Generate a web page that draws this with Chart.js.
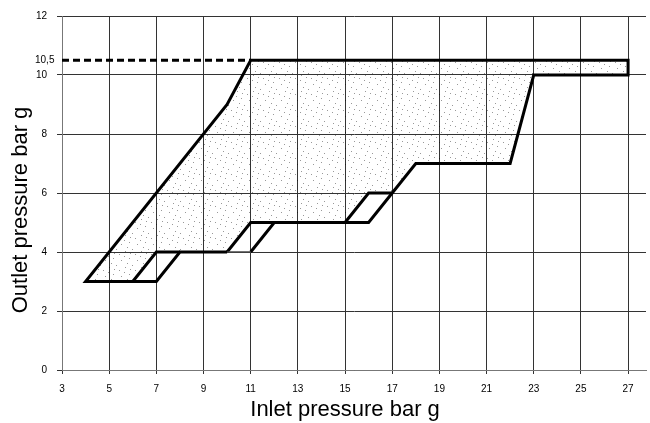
<!DOCTYPE html>
<html>
<head>
<meta charset="utf-8">
<script src="https://cdn.jsdelivr.net/npm/chart.js@4.4.0/dist/chart.umd.min.js"></script>
<style>
  html, body { margin: 0; padding: 0; background: #fff; }
</style>
</head>
<body>
<canvas id="pressureChart" width="650" height="423"></canvas>
<script>
// axis ticks (bar g)
const xTicks = [3, 5, 7, 9, 11, 13, 15, 17, 19, 21, 23, 25, 27];
const yTicks = [0, 2, 4, 6, 8, 10, 12];
const setLevel = 10.5;
const setLevelLabel = '10,5';

// regulating range, [inlet, outlet]
const shadedArea = [[4, 3], [6, 3], [7, 4], [10, 4], [11, 5], [15, 5], [16, 6], [17, 6], [18, 7],
                    [22, 7], [23, 10], [27, 10], [27, 10.5], [11, 10.5], [10, 9], [4, 3]];
const outerLine = [[11, 4], [12, 5], [16, 5], [17, 6], [18, 7], [22, 7], [23, 10], [27, 10],
                   [27, 10.5], [11, 10.5], [10, 9], [4, 3], [7, 3], [8, 4], [10, 4]];
const step1 = [[6, 3], [7, 4], [8, 4]];
const step2 = [[10, 4], [11, 5], [12, 5]];
const step3 = [[15, 5], [16, 6], [17, 6]];
const thinStep = [[10, 4], [11, 4]];
const dashedLine = [[3, 10.5], [11, 10.5]];

const pts = a => a.map(p => ({ x: p[0], y: p[1] }));

// sparse stipple for the shaded range (fixed dot spots on a 16px tile)
const dotSpots = [[1, 2], [9, 4], [13, 11], [4, 9], [7, 14], [12, 0], [2, 13], [15, 7]];
function stipple(ctx) {
    const c = document.createElement('canvas');
    c.width = 16; c.height = 16;
    const g = c.getContext('2d');
    g.fillStyle = 'rgba(0,0,0,0.4)';
    dotSpots.forEach(d => g.fillRect(d[0], d[1], 1, 1));
    return ctx.createPattern(c, 'repeat');
}

const font = 'Liberation Sans, Arial, sans-serif';

const axisText = {
    id: 'axisText',
    afterDraw(chart) {
        const ctx = chart.ctx;
        const x = chart.scales.x, y = chart.scales.y;
        ctx.save();
        ctx.fillStyle = '#000';
        ctx.font = '10px ' + font;
        ctx.textAlign = 'left';
        ctx.textBaseline = 'middle';
        ctx.fillText(setLevelLabel, 35, y.getPixelForValue(setLevel));

        ctx.font = '22px ' + font;
        ctx.textAlign = 'center';
        ctx.textBaseline = 'alphabetic';
        const cx = (x.getPixelForValue(xTicks[0]) + x.getPixelForValue(xTicks[xTicks.length - 1])) / 2;
        ctx.fillText('Inlet pressure bar g', cx, 416);

        ctx.translate(27, 210);
        ctx.rotate(-Math.PI / 2);
        ctx.fillText('Outlet pressure bar g', 0, 0);
        ctx.restore();
    }
};

const ctx = document.getElementById('pressureChart').getContext('2d');

const line = (data, width, extra) => Object.assign({
    data: pts(data),
    showLine: true,
    borderColor: '#000',
    borderWidth: width,
    pointRadius: 0,
    borderJoinStyle: 'miter',
    fill: false
}, extra || {});

new Chart(ctx, {
    type: 'scatter',
    data: {
        datasets: [
            line(shadedArea, 0, { fill: 'shape', backgroundColor: stipple(ctx) }),
            line(thinStep, 1.5, { borderColor: '#444' }),
            line(outerLine, 3),
            line(step1, 3),
            line(step2, 3),
            line(step3, 3),
            line(dashedLine, 3, { borderDash: [7, 4] })
        ]
    },
    options: {
        responsive: false,
        animation: false,
        layout: { padding: { top: 13, right: 4, left: 0, bottom: 0 } },
        plugins: { legend: { display: false }, tooltip: { enabled: false } },
        scales: {
            x: {
                type: 'linear',
                min: 3,
                max: 27.76,
                afterBuildTicks: s => { s.ticks = xTicks.map(v => ({ value: v })); },
                afterFit: s => { s.height = 53; },
                ticks: { color: '#000', font: { family: font, size: 10 }, padding: 9, maxRotation: 0, autoSkip: false },
                grid: { color: '#333', lineWidth: 1, tickLength: 4 },
                border: { color: '#777', width: 1 }
            },
            y: {
                min: 0,
                max: 12,
                afterBuildTicks: s => { s.ticks = yTicks.map(v => ({ value: v })); },
                afterFit: s => { s.width = 62; },
                ticks: { color: '#000', font: { family: font, size: 10 }, padding: 10 },
                grid: { color: '#333', lineWidth: 1, tickLength: 5 },
                border: { color: '#777', width: 1 }
            }
        }
    },
    plugins: [axisText]
});
</script>
</body>
</html>
